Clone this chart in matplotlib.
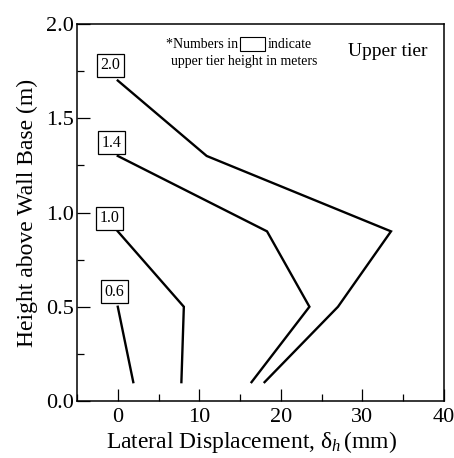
import matplotlib
matplotlib.use("Agg")
import matplotlib.pyplot as plt
from matplotlib.patches import Rectangle

plt.rcParams['font.family'] = ['Liberation Serif', 'DejaVu Serif']
plt.rcParams['mathtext.fontset'] = 'custom'
plt.rcParams['mathtext.rm'] = 'Liberation Serif'
plt.rcParams['mathtext.it'] = 'Liberation Serif:italic'

# data: upper tier height label -> (displacement mm, height m)
labels = ["2.0", "1.4", "1.0", "0.6"]
disp_20 = [0.0, 10.9, 33.5, 27.0, 18.0]
hgt_20 = [1.70, 1.30, 0.90, 0.50, 0.10]
disp_14 = [0.0, 18.3, 23.5, 16.4]
hgt_14 = [1.30, 0.90, 0.50, 0.10]
disp_10 = [0.0, 8.1, 7.8]
hgt_10 = [0.90, 0.50, 0.10]
disp_06 = [0.0, 1.9]
hgt_06 = [0.50, 0.10]
label_x = [-0.9, -0.8, -1.0, -0.4]
label_y = [1.78, 1.37, 0.97, 0.58]

fig = plt.figure(figsize=(4.54, 4.58), dpi=100)
ax = fig.add_axes([77/454, 57/458, 367/454, 377/458])

for d, h in [(disp_20, hgt_20), (disp_14, hgt_14), (disp_10, hgt_10), (disp_06, hgt_06)]:
    ax.plot(d, h, color='black', lw=1.7, solid_joinstyle='miter')

for lab, lx, ly in zip(labels, label_x, label_y):
    ax.text(lx, ly, lab, ha='center', va='center', fontsize=11.5,
            bbox=dict(boxstyle='square,pad=0.22', fc='white', ec='black', lw=0.9))

ax.set_xlim(-5, 40)
ax.set_ylim(0, 2.0)
ax.set_xticks([0, 10, 20, 30, 40])
ax.set_xticks([-5, 5, 15, 25, 35], minor=True)
ax.set_yticks([0.0, 0.5, 1.0, 1.5, 2.0])
ax.set_yticks([0.25, 0.75, 1.25, 1.75], minor=True)
ax.set_xticklabels(['0', '10', '20', '30', '40'])
ax.set_yticklabels(['0.0', '0.5', '1.0', '1.5', '2.0'])
ax.tick_params(which='major', direction='in', length=9, width=0.9, labelsize=16)
ax.tick_params(which='minor', direction='in', length=5, width=0.9)
ax.tick_params(axis='x', which='major', pad=5)
ax.tick_params(axis='y', which='major', pad=2)
for s in ax.spines.values():
    s.set_linewidth(1.1)

ax.set_xlabel(r'Lateral Displacement, δ$_{\mathit{h}}\,$(mm)', fontsize=17)
ax.xaxis.set_label_coords(0.475, -0.074)
ax.set_ylabel('Height above Wall Base (m)', fontsize=17, labelpad=6)

# annotation
fig.text(238/454, 1 - 45/458, '*Numbers in', ha='right', va='center', fontsize=10)
fig.patches.append(Rectangle((240/454, 1 - 51/458), 25/454, 14/458, transform=fig.transFigure,
                             fill=False, ec='black', lw=0.8))
fig.text(268/454, 1 - 45/458, 'indicate', ha='left', va='center', fontsize=10)
fig.text(244/454, 1 - 62/458, 'upper tier height in meters', ha='center', va='center', fontsize=10)
fig.text(388/454, 1 - 52/458, 'Upper tier', ha='center', va='center', fontsize=14)

fig.savefig('out.png', dpi=100)
